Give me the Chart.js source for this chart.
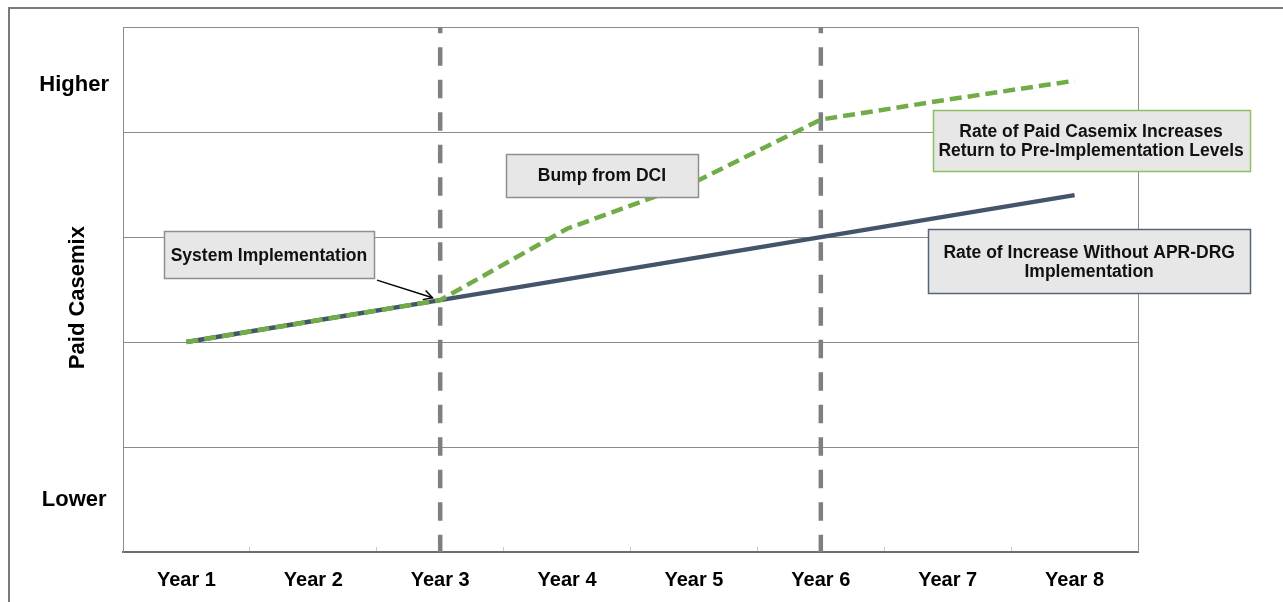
<!DOCTYPE html>
<html>
<head>
<meta charset="utf-8">
<script src="https://cdn.jsdelivr.net/npm/chart.js@4/dist/chart.umd.min.js"></script>
<style>
  html, body { margin: 0; padding: 0; background: #fff; }
  body { width: 1283px; height: 602px; position: relative; overflow: hidden; }
  #frame { position: absolute; left: 8px; top: 7px; width: 1400px; height: 700px;
           border-left: 2.5px solid #7a7a7a; border-top: 2.5px solid #7a7a7a; }
  #wrap { position: absolute; left: 0; top: 0; width: 1283px; height: 602px; }
</style>
</head>
<body>
<div id="frame"></div>
<div id="wrap"><canvas id="casemix" width="1283" height="602"></canvas></div>
<script>
// Years on the horizontal axis
const years = ['Year 1', 'Year 2', 'Year 3', 'Year 4', 'Year 5', 'Year 6', 'Year 7', 'Year 8'];

// Paid casemix trend without the new grouper
const baselineCasemix = [2.0, 2.2, 2.4, 2.6, 2.8, 3.0, 3.2, 3.4];

// Paid casemix with the documentation/coding bump after implementation
const withDciCasemix = [2.0, 2.2, 2.4, 3.08, 3.52, 4.12, 4.31, 4.49];

// Years marked with vertical dashed guides
const milestoneYears = ['Year 3', 'Year 6'];

// Gridline levels and the qualitative labels on the value axis
const gridLevels = [0, 1, 2, 3, 4, 5];
const levelLabelValues = [0.5, 4.45];
const levelLabelText = ['Lower', 'Higher'];

const FONT = '"Liberation Sans", Arial, Helvetica, sans-serif';

// Callout boxes, placed in axis units (category index, value)
const callouts = [
  { lines: ['System Implementation'], x: 0.65, y: 2.83, w: 210, h: 47, border: '#8f8f8f' },
  { lines: ['Bump from DCI'], x: 3.275, y: 3.59, w: 192, h: 43, border: '#8f8f8f' },
  { lines: ['Rate of Paid Casemix Increases', 'Return to Pre-Implementation Levels'],
    x: 7.13, y: 3.92, w: 317, h: 61, border: '#8cc063' },
  { lines: ['Rate of Increase Without APR-DRG', 'Implementation'],
    x: 7.115, y: 2.77, w: 322, h: 64, border: '#56657a' }
];

// Arrow from the implementation callout to the Year 3 point
const arrowTail = { x: 1.502, y: 2.59 };
const arrowTarget = { year: 'Year 3', value: baselineCasemix[2] };

const decor = {
  id: 'decor',
  beforeDatasetsDraw(chart) {
    const { ctx, chartArea: a, scales: { x } } = chart;
    ctx.save();
    // right edge of the plot frame
    ctx.strokeStyle = '#8c8c8c';
    ctx.lineWidth = 1;
    ctx.beginPath();
    ctx.moveTo(Math.round(a.right) + 0.5, a.top);
    ctx.lineTo(Math.round(a.right) + 0.5, a.bottom);
    ctx.stroke();
    // milestone guides
    ctx.strokeStyle = '#7f7f7f';
    ctx.lineWidth = 4.5;
    ctx.setLineDash([18.5, 14]);
    ctx.lineDashOffset = 12.5;
    milestoneYears.forEach(m => {
      const px = x.getPixelForValue(years.indexOf(m));
      ctx.beginPath();
      ctx.moveTo(px, a.top);
      ctx.lineTo(px, a.bottom);
      ctx.stroke();
    });
    ctx.restore();
  },
  afterDraw(chart) {
    const { ctx, chartArea: a, scales: { x, y } } = chart;
    ctx.save();

    // value axis title
    ctx.save();
    ctx.translate(a.left - 45, (a.top + a.bottom) / 2 + 8);
    ctx.rotate(-Math.PI / 2);
    ctx.fillStyle = '#000';
    ctx.font = 'bold 22px ' + FONT;
    ctx.textAlign = 'center';
    ctx.textBaseline = 'middle';
    ctx.fillText('Paid Casemix', 0, 0);
    ctx.restore();

    // callout boxes
    callouts.forEach(c => {
      const cx = x.getPixelForValue(c.x);
      const cy = y.getPixelForValue(c.y);
      const left = Math.round(cx - c.w / 2) + 0.5;
      const top = Math.round(cy - c.h / 2) + 0.5;
      ctx.fillStyle = '#e7e7e7';
      ctx.fillRect(left, top, c.w, c.h);
      ctx.strokeStyle = c.border;
      ctx.lineWidth = 1.5;
      ctx.strokeRect(left, top, c.w, c.h);
      ctx.fillStyle = '#111';
      ctx.font = 'bold 17.5px ' + FONT;
      ctx.textAlign = 'center';
      ctx.textBaseline = 'middle';
      const lh = 19;
      const y0 = cy - (c.lines.length - 1) * lh / 2 + 1;
      c.lines.forEach((t, i) => ctx.fillText(t, cx, y0 + i * lh));
    });

    // arrow
    const tx = x.getPixelForValue(arrowTail.x), ty = y.getPixelForValue(arrowTail.y);
    const px = x.getPixelForValue(years.indexOf(arrowTarget.year));
    const py = y.getPixelForValue(arrowTarget.value);
    const ang = Math.atan2(py - ty, px - tx);
    const hx = px - Math.cos(ang) * 8, hy = py - Math.sin(ang) * 8;
    ctx.strokeStyle = '#000';
    ctx.lineWidth = 1.5;
    ctx.beginPath();
    ctx.moveTo(tx, ty);
    ctx.lineTo(hx, hy);
    ctx.stroke();
    ctx.beginPath();
    ctx.moveTo(hx - 10 * Math.cos(ang - 0.5), hy - 10 * Math.sin(ang - 0.5));
    ctx.lineTo(hx, hy);
    ctx.lineTo(hx - 10 * Math.cos(ang + 0.5), hy - 10 * Math.sin(ang + 0.5));
    ctx.stroke();

    ctx.restore();
  }
};

new Chart(document.getElementById('casemix'), {
  type: 'line',
  data: {
    labels: years,
    datasets: [
      {
        label: 'Paid Casemix with DCI',
        data: withDciCasemix,
        borderColor: '#70ad47',
        borderWidth: 4.5,
        borderDash: [12, 6],
        pointRadius: 0,
        tension: 0,
        order: 1
      },
      {
        label: 'Rate of Increase Without APR-DRG Implementation',
        data: baselineCasemix,
        borderColor: '#44546a',
        borderWidth: 4.5,
        pointRadius: 0,
        tension: 0,
        order: 2
      }
    ]
  },
  options: {
    responsive: false,
    animation: false,
    devicePixelRatio: 1,
    layout: { padding: { left: 0, right: 145, top: 25, bottom: 0 } },
    plugins: { legend: { display: false }, tooltip: { enabled: false } },
    scales: {
      x: {
        offset: true,
        grid: { offset: true, drawOnChartArea: false, drawTicks: true, tickLength: -5, color: '#c8c8c8', lineWidth: 1 },
        border: { display: true, color: '#6e6e6e', width: 2 },
        ticks: {
          padding: 21, color: '#000', autoSkip: false, maxRotation: 0,
          font: { family: FONT, size: 20, weight: 'bold' }
        },
        afterFit(s) { s.height = 50; }
      },
      y: {
        min: 0, max: 5,
        afterBuildTicks(s) {
          s.ticks = [...gridLevels, ...levelLabelValues].sort((p, q) => p - q).map(v => ({ value: v }));
        },
        grid: {
          drawTicks: false, lineWidth: 1,
          color: c => (c.tick && Number.isInteger(c.tick.value)) ? '#8c8c8c' : 'rgba(0,0,0,0)'
        },
        border: { display: true, color: '#8c8c8c', width: 1 },
        ticks: {
          padding: 14, crossAlign: 'center', color: '#000', autoSkip: false,
          font: { family: FONT, size: 22, weight: 'bold' },
          callback(v) {
            const i = levelLabelValues.indexOf(v);
            return i >= 0 ? levelLabelText[i] : '';
          }
        },
        afterFit(s) { s.width = 123; }
      }
    }
  },
  plugins: [decor]
});
</script>
</body>
</html>
